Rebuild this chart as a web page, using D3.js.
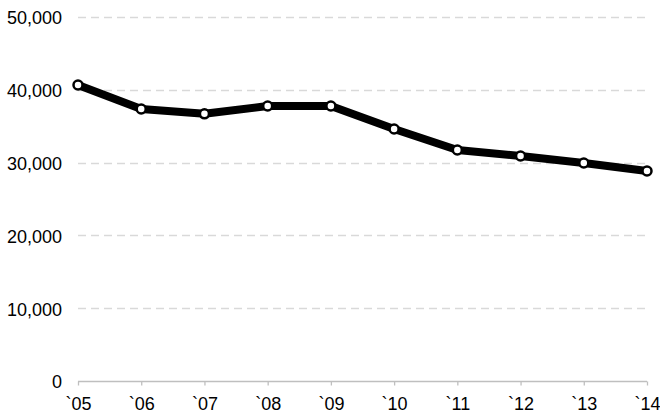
<!DOCTYPE html>
<html>
<head>
<meta charset="utf-8">
<script src="https://cdn.jsdelivr.net/npm/d3@7"></script>
<style>
  body { margin: 0; background: #fff; }
  text { font-family: "Liberation Sans", Arial, sans-serif; }
</style>
</head>
<body>
<svg id="chart" width="660" height="415"></svg>
<script>
// data
let years = ["`05", "`06", "`07", "`08", "`09", "`10", "`11", "`12", "`13", "`14"];
let values = [40660, 37360, 36700, 37770, 37770, 34620, 31730, 30910, 29950, 28850];
let yTicks = [0, 10000, 20000, 30000, 40000, 50000];

let width = 660;
let height = 415;
let margin = {left: 78, right: 13, top: 17, bottom: 34};

let svg = d3.select("#chart");

let x = d3.scalePoint().domain(years).range([margin.left, width - margin.right]);
let y = d3.scaleLinear().domain([0, 50000]).range([height - margin.bottom, margin.top]);

// dashed grid lines
svg.append("g")
  .selectAll("line")
  .data(yTicks.filter(d => d > 0))
  .join("line")
  .attr("x1", margin.left)
  .attr("x2", width - margin.right + 3)
  .attr("y1", d => Math.round(y(d)) + 0.5)
  .attr("y2", d => Math.round(y(d)) + 0.5)
  .style("stroke", "#d9d9d9")
  .style("stroke-width", 1.3)
  .style("stroke-dasharray", "8,5");

// y labels
svg.append("g")
  .selectAll("text")
  .data(yTicks)
  .join("text")
  .attr("x", 62)
  .attr("y", d => y(d) + 1)
  .attr("dy", "0.35em")
  .attr("text-anchor", "end")
  .style("font-size", "18px")
  .style("fill", "#000")
  .text(d => d3.format(",")(d));

// x axis
let xAxis = svg.append("g")
  .attr("transform", "translate(0," + (Math.round(y(0)) + 0.5) + ")")
  .call(d3.axisBottom(x).tickSize(4).tickPadding(12));
xAxis.select(".domain").style("stroke", "#bfbfbf").style("stroke-width", 1.3)
  .attr("d", "M" + margin.left + ",0H" + (width - margin.right));
xAxis.selectAll(".tick line").style("stroke", "#bfbfbf").style("stroke-width", 1.3);
xAxis.selectAll(".tick text")
  .style("font-size", "18px")
  .style("fill", "#000")
  .style("font-family", "'Liberation Sans', Arial, sans-serif");

// the line
let lineGenerator = d3.line()
  .x((d, i) => x(years[i]))
  .y(d => y(d));

svg.append("path")
  .datum(values)
  .attr("d", lineGenerator)
  .style("fill", "none")
  .style("stroke", "#000")
  .style("stroke-width", 8)
  .style("stroke-linejoin", "round");

// markers
svg.append("g")
  .selectAll("circle")
  .data(values)
  .join("circle")
  .attr("cx", (d, i) => x(years[i]))
  .attr("cy", d => y(d))
  .attr("r", 4.5)
  .style("fill", "#fff")
  .style("stroke", "#000")
  .style("stroke-width", 2.5);
</script>
</body>
</html>
